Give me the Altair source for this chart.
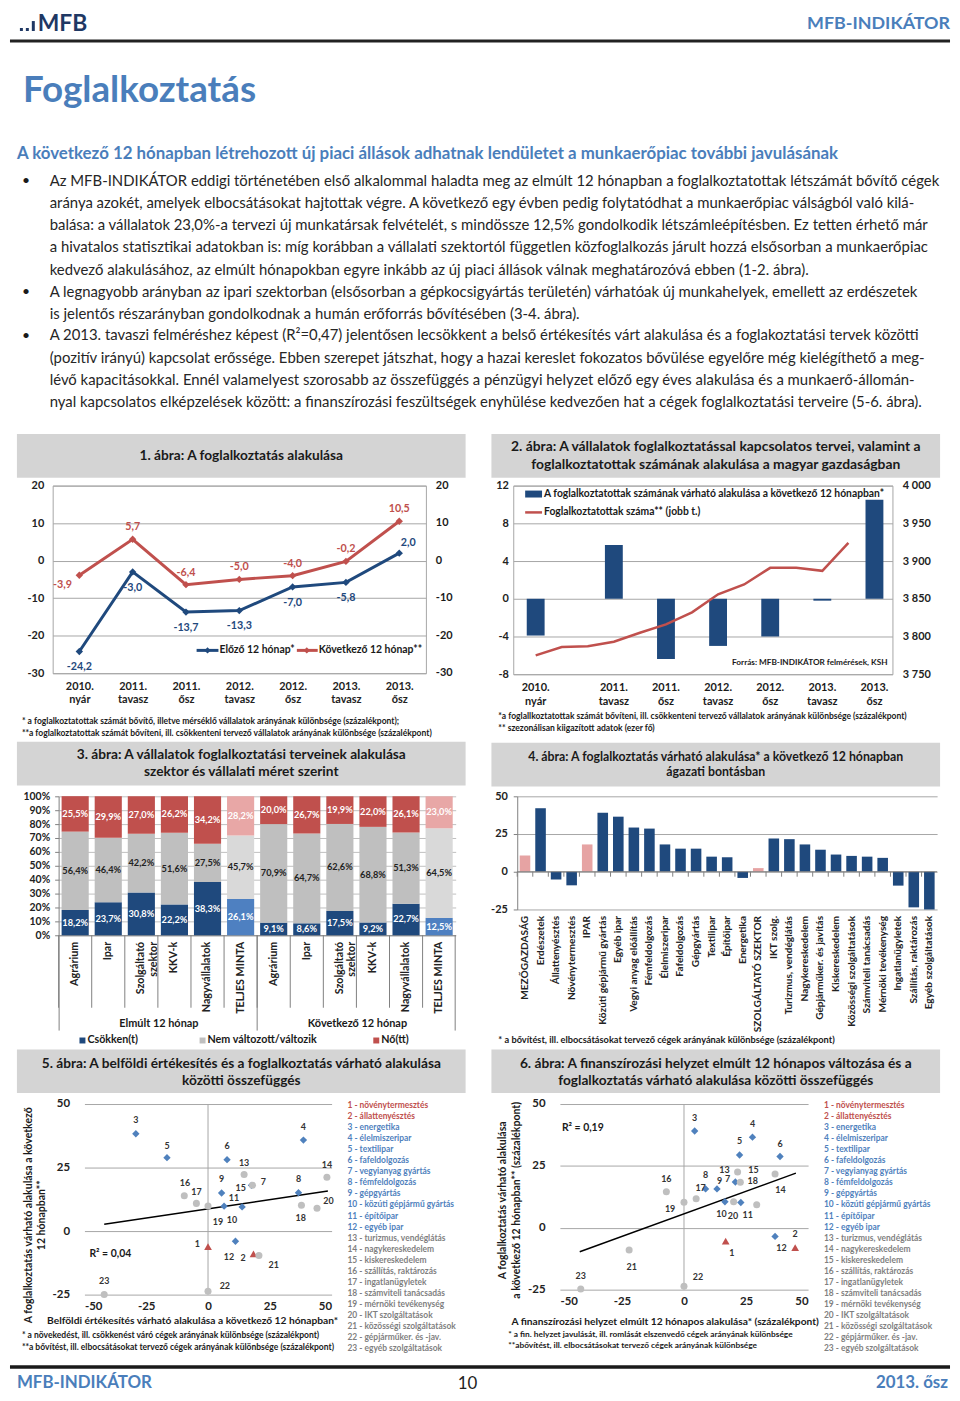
import altair as alt
import pandas as pd

FONT = "Lato"
DARK = "#1F497D"
RED = "#C0504D"
BLUE = "#4F81BD"
BOXGRAY = "#D4D4D4"
TXT = "#1A1A1A"
HBLUE = "#4A7EBB"
GRID = "#A6A6A6"
NOTE = 8.6

# ------------------------------------------------------------------ data
periods = ["2010.\nnyár", "2011.\ntavasz", "2011.\nősz", "2012.\ntavasz",
           "2012.\nősz", "2013.\ntavasz", "2013.\nősz"]
prev12 = [-24.2, -3.0, -13.7, -13.3, -7.0, -5.8, 2.0]
next12 = [-3.9, 5.7, -6.4, -5.0, -4.0, -0.2, 10.5]

survey_quarter = [0, 3, 5, 7, 9, 11, 13]
emp_quarter = [0, 1, 2, 3, 4, 5, 6, 7, 8, 9, 10, 11, 12]
employment = [3775, 3786, 3787, 3793, 3805, 3816, 3832, 3856, 3869, 3891, 3891, 3887, 3924]

groups3 = ["Elmúlt 12 hónap", "Következő 12 hónap"]
cats3 = ["Agrárium", "Ipar", "Szolgáltató\nszektor", "KKV-k", "Nagyvállalatok", "TELJES MINTA"]
series3 = ["Csökken(t)", "Nem változott/változik", "Nő(tt)"]
down3 = [18.2, 23.7, 30.8, 22.2, 38.3, 26.1, 9.1, 8.6, 17.5, 9.2, 22.7, 12.5]
same3 = [56.4, 46.4, 42.2, 51.6, 27.5, 45.7, 70.9, 64.7, 62.6, 68.8, 51.3, 64.5]
up3 = [25.5, 29.9, 27.0, 26.2, 34.2, 28.2, 20.0, 26.7, 19.9, 22.0, 26.1, 23.0]

sectors4 = ["MEZŐGAZDASÁG", "Erdészetek", "Állattenyésztés", "Növénytermesztés", "IPAR",
            "Közúti gépjármű gyártás", "Egyéb ipar", "Vegyi anyag előállítás", "Fémfeldolgozás",
            "Élelmiszeripar", "Fafeldolgozás", "Gépgyártás", "Textilipar", "Építőipar", "Energetika",
            "SZOLGÁLTATÓ SZEKTOR", "IKT szolg.", "Turizmus, vendéglátás", "Nagykereskedelem",
            "Gépjárműker. és javítás", "Kiskereskedelem", "Közösségi szolgáltatások",
            "Számviteli tanácsadás", "Mérnöki tevékenység", "Ingatlanügyletek",
            "Szállítás, raktározás", "Egyéb szolgáltatások"]
values4 = [10.7, 42.1, -5.2, -9.0, 18.1, 39.1, 36.5, 29.3, 28.6, 18.1, 15.3, 15.3, 10.0, 9.6,
           -4.1, 2.4, 22.1, 21.6, 18.1, 14.6, 11.4, 10.5, 10.0, 9.2, -9.2, -23.6, -25.0]

ids = list(range(1, 24))
sector_groups = ["agr"] * 2 + ["ind"] * 10 + ["srv"] * 11
legend_items = ["1 - növénytermesztés", "2 - állattenyésztés", "3 - energetika",
                "4 - élelmiszeripar", "5 - textilipar", "6 - fafeldolgozás",
                "7 - vegyianyag  gyártás", "8 - fémfeldolgozás", "9 - gépgyártás",
                "10 - közúti gépjármű gyártás", "11 - építőipar", "12 - egyéb ipar",
                "13 - turizmus, vendéglátás", "14 - nagykereskedelem", "15 - kiskereskedelem",
                "16 - szállítás,  raktározás", "17 - ingatlanügyletek", "18 - számviteli tanácsadás",
                "19 - mérnöki tevékenység", "20 - IKT szolgáltatások", "21 - közösségi  szolgáltatások",
                "22 - gépjárműker. és -jav.", "23 - egyéb szolgáltatások"]

sales_x = [0.0, 18.4, -29.2, 38.6, -16.6, 7.7, 17.6, 36.6, 5.5, 6.5, 13.8, 11.1, 14.6, 48.1,
           18.0, -9.6, -4.7, 37.8, 0.0, 44.1, 20.6, 0.0, -42.0]
sales_y = [-6.1, -9.0, 38.3, 35.8, 28.9, 28.1, 18.0, 15.1, 15.0, 9.8, 9.5, -4.0, 22.3, 21.2,
           18.0, 13.9, 10.9, 10.2, 9.9, 9.0, -9.6, -23.7, -25.0]
lab5_x = [-4.3, 14.2, -29.2, 38.6, -16.6, 7.7, 22.4, 36.6, 5.5, 9.7, 10.5, 8.5, 14.6, 48.1,
          13.2, -9.3, -4.7, 37.5, 4.0, 48.7, 26.6, 6.8, -42.0]
lab5_y = [-5.1, -10.7, 43.6, 41.1, 33.6, 33.3, 19.3, 20.3, 20.3, 4.3, 13.2, -10.4, 26.8, 26.0,
          17.1, 18.9, 15.5, 5.3, 3.4, 11.8, -13.2, -21.6, -19.8]
trend5_x = [-42.0, 48.5]
trend5_y = [2.7, 15.8]

fin_x = [16.8, 44.8, 4.3, 27.6, 22.4, 38.7, 20.7, 8.7, 13.3, 16.5, 22.9, 36.7, 21.6, 36.7,
         29.3, -7.1, 4.9, 22.7, 0.0, 20.0, -22.1, 0.0, -41.6]
fin_y = [-5.4, -8.0, 39.1, 36.6, 29.4, 28.8, 18.5, 15.7, 15.7, 10.5, 10.2, -3.5, 22.5, 21.7,
         9.3, 14.6, 11.7, 18.4, 10.3, 10.5, -9.0, -23.6, -24.7]
lab6_x = [19.3, 44.8, 4.3, 27.6, 22.4, 38.7, 17.6, 8.7, 14.3, 15.1, 25.7, 39.3, 16.3, 38.9,
          28.0, -7.1, 6.7, 27.7, -5.6, 19.7, -21.1, 5.6, -41.6]
lab6_y = [-10.3, -2.4, 44.2, 42.0, 34.9, 33.8, 19.7, 21.2, 18.8, 5.4, 5.0, -8.3, 23.5, 15.1,
          23.2, 19.7, 16.1, 18.8, 7.4, 4.7, -15.7, -19.8, -19.4]
trend6_x = [-42.0, 45.1]
trend6_y = [-9.7, 22.1]

body1 = ("Az MFB-INDIKÁTOR eddigi történetében első alkalommal haladta meg az elmúlt 12 hónapban a foglalkoztatottak létszámát bővítő cégek\n"
         "aránya azokét, amelyek elbocsátásokat hajtottak végre. A következő egy évben pedig folytatódhat a munkaerőpiac válságból való kilá-\n"
         "balása: a vállalatok 23,0%-a tervezi új munkatársak felvételét, s mindössze 12,5% gondolkodik létszámleépítésben. Ez tetten érhető már\n"
         "a hivatalos statisztikai adatokban is: míg korábban a vállalati szektortól független közfoglalkozás járult hozzá elsősorban a munkaerőpiac\n"
         "kedvező alakulásához, az elmúlt hónapokban egyre inkább az új piaci állások válnak meghatározóvá ebben (1-2. ábra).")
body2 = ("A legnagyobb arányban az ipari szektorban (elsősorban a gépkocsigyártás területén) várhatóak új munkahelyek, emellett az erdészetek\n"
         "is jelentős részarányban gondolkodnak a humán erőforrás bővítésében (3-4. ábra).")
body3 = ("A 2013. tavaszi felméréshez képest (R²=0,47) jelentősen lecsökkent a belső értékesítés várt alakulása és a foglakoztatási tervek közötti\n"
         "(pozitív irányú) kapcsolat erőssége. Ebben szerepet játszhat, hogy a hazai kereslet fokozatos bővülése egyelőre még kielégíthető a meg-\n"
         "lévő kapacitásokkal. Ennél valamelyest szorosabb az összefüggés a pénzügyi helyzet előző egy éves alakulása és a munkaerő-állomán-\n"
         "nyal kapcsolatos elképzelések között: a finanszírozási feszültségek enyhülése kedvezően hat a cégek foglalkoztatási terveire (5-6. ábra).")

# ------------------------------------------------------------------ helpers
dummy = pd.DataFrame({"d": [0]})
HYPH = "replace(datum.label, '\u2212', '-')"
LAB = "replace(replace(format(datum.value, '.1f'), '.', ','), '\u2212', '-')"


def T(x, y, text, size=10, bold=False, color=TXT, align="left", baseline="middle",
      angle=None, lh=None):
    kw = dict(align=align, baseline=baseline, fontSize=size, font=FONT, color=color,
              fontWeight="bold" if bold else "normal")
    if angle is not None:
        kw["angle"] = angle
    if lh is not None:
        kw["lineHeight"] = lh
        kw["lineBreak"] = "\n"
    return alt.Chart(dummy).mark_text(**kw).encode(
        x=alt.value(x), y=alt.value(y), text=alt.value(text))


def R(x, x2, y, y2, color, opacity=1):
    return alt.Chart(dummy).mark_rect(color=color, opacity=opacity).encode(
        x=alt.value(x), x2=alt.value(x2), y=alt.value(y), y2=alt.value(y2))


def HL(x, x2, y, color, w):
    return alt.Chart(dummy).mark_rule(color=color, strokeWidth=w).encode(
        x=alt.value(x), x2=alt.value(x2), y=alt.value(y))


def VL(x, y, y2, color, w):
    return alt.Chart(dummy).mark_rule(color=color, strokeWidth=w).encode(
        x=alt.value(x), y=alt.value(y), y2=alt.value(y2))


def P(x, y, shape, color, size):
    return alt.Chart(dummy).mark_point(shape=shape, filled=True, color=color, size=size,
                                       opacity=1).encode(x=alt.value(x), y=alt.value(y))


def spacer(w, top=0, bottom=1):
    # invisible block that fixes the extent of a row
    return R(0, w, -top, bottom, "white", opacity=0).properties(width=w, height=max(bottom, 1))


def title_box(x0, x1, y0, y1, cx, lines, ys, size=13.8):
    out = [R(x0, x1, y0, y1, BOXGRAY)]
    for line, yy in zip(lines, ys):
        out.append(T(cx, yy, line, size=size, bold=True, align="center"))
    return out


# ------------------------------------------------------------------ chart 1
W1, H1 = 376, 189
df1 = pd.DataFrame({
    "period": periods * 2,
    "idx": list(range(7)) * 2,
    "series": ["Előző 12 hónap*"] * 7 + ["Következő 12 hónap**"] * 7,
    "value": prev12 + next12,
})
ticks1 = [-30, -20, -10, 0, 10, 20]
x1 = alt.X("period:N", sort=periods, scale=alt.Scale(type="point", padding=0.5),
           axis=alt.Axis(title=None, labelAngle=0, labelExpr="split(datum.label, '\\n')",
                         labelFontWeight="bold", labelFontSize=11, labelPadding=7,
                         labelLineHeight=13.5, ticks=False, domain=False, grid=False))
y1 = alt.Y("value:Q", scale=alt.Scale(domain=[-30, 20], nice=False),
           axis=alt.Axis(title=None, values=ticks1, labelFontWeight="bold", labelFontSize=11,
                         labelPadding=9, ticks=False, domain=False, gridColor=GRID,
                         labelExpr=HYPH))
col1 = alt.Color("series:N", scale=alt.Scale(domain=["Előző 12 hónap*", "Következő 12 hónap**"],
                                             range=[DARK, RED]), legend=None)
b1 = alt.Chart(df1)
lines1 = b1.mark_line(strokeWidth=3, point=alt.OverlayMarkDef(shape="diamond", size=55, filled=True)
                      ).encode(x=x1, y=y1, color=col1)
lab_kw = dict(font=FONT, fontSize=10.8, fontWeight="bold")
bl_main = b1.transform_filter("datum.series == 'Előző 12 hónap*' && datum.idx != 6").transform_calculate(
    lab=LAB).mark_text(dy=16, color=DARK, **lab_kw).encode(x=x1, y=y1, text="lab:N")
bl_last = b1.transform_filter("datum.series == 'Előző 12 hónap*' && datum.idx == 6").transform_calculate(
    lab=LAB).mark_text(dy=-10, dx=9, color=DARK, **lab_kw).encode(x=x1, y=y1, text="lab:N")
rd_main = b1.transform_filter("datum.series == 'Következő 12 hónap**' && datum.idx != 0").transform_calculate(
    lab=LAB).mark_text(dy=-12, color=RED, **lab_kw).encode(x=x1, y=y1, text="lab:N")
rd_first = b1.transform_filter("datum.series == 'Következő 12 hónap**' && datum.idx == 0").transform_calculate(
    lab=LAB).mark_text(dy=10, dx=-17, color=RED, **lab_kw).encode(x=x1, y=y1, text="lab:N")
right1 = alt.Chart(pd.DataFrame({"value": ticks1})).transform_calculate(
    lab="replace(format(datum.value, 'd'), '\u2212', '-')").mark_text(
    align="left", fontSize=11, fontWeight="bold", font=FONT, color=TXT).encode(
    x=alt.value(W1 + 10), y=y1, text="lab:N")

chart1 = alt.layer(
    *title_box(-36, 416, -52, -8, 190, ["1. ábra: A foglalkoztatás  alakulása"], [-30]),
    lines1, bl_main, bl_last, rd_main, rd_first, right1,
    HL(145, 167, 166, DARK, 3), P(156, 166, "diamond", DARK, 40),
    T(168, 166, "Előző 12 hónap*", 10.5, True),
    HL(246, 267, 166, RED, 3), P(256, 166, "diamond", RED, 40),
    T(268, 166, "Következő 12 hónap**", 10.5, True),
    T(-31, 237, "* a foglalkoztatottak  számát  bővítő, illetve  mérséklő vállalatok  arányának  különbsége  (százalékpont);", NOTE, True),
    T(-31, 249, "**a foglalkoztatottak  számát  bővíteni, ill.  csökkenteni tervező vállalatok  arányának  különbsége  (százalékpont)", NOTE, True),
).properties(width=W1, height=H1, view=alt.ViewBackground(stroke=GRID))

# ------------------------------------------------------------------ chart 2
W2, H2 = 382, 190
df2b = pd.DataFrame({"q": survey_quarter, "value": next12, "period": periods})
df2l = pd.DataFrame({"q": emp_quarter, "emp": employment})
x2 = alt.X("q:Q", scale=alt.Scale(domain=[-0.67, 13.5], nice=False, zero=False), axis=None)
y2L = alt.Y("value:Q", scale=alt.Scale(domain=[-8, 12], nice=False),
            axis=alt.Axis(title=None, values=[-8, -4, 0, 4, 8, 12], labelFontWeight="bold",
                          labelFontSize=11, labelPadding=5, ticks=False, domain=False,
                          gridColor=GRID, labelExpr=HYPH))
y2R = alt.Y("emp:Q", scale=alt.Scale(domain=[3750, 4000], nice=False, zero=False),
            axis=alt.Axis(title=None, orient="right", values=[3750, 3800, 3850, 3900, 3950, 4000],
                          labelExpr="replace(format(datum.value, ','), ',', ' ')",
                          labelFontWeight="bold", labelFontSize=11, labelPadding=10,
                          ticks=False, domain=False, grid=False))
bars2 = alt.Chart(df2b).mark_bar(size=18, color=DARK).encode(x=x2, y=y2L)
line2 = alt.Chart(df2l).mark_line(color=RED, strokeWidth=2.5).encode(x=x2, y=y2R)
plabels2 = alt.Chart(df2b).mark_text(baseline="line-top", lineBreak="\n", lineHeight=14,
                                     fontSize=11, fontWeight="bold", font=FONT, color=TXT).encode(
    x=x2, text="period:N", y=alt.value(H2 + 7))
chart2 = alt.layer(
    *title_box(-22, 430, -52, -8, 204,
               ["2. ábra: A vállalatok  foglalkoztatással  kapcsolatos  tervei, valamint  a",
                "foglalkoztatottak  számának  alakulása  a magyar  gazdaságban"], [-39, -21],
               size=14),
    bars2, line2, plabels2,
    R(12, 29, 5, 12, DARK),
    T(31, 8.5, "A foglalkoztatottak számának várható alakulása a következő 12 hónapban*", 10.4, True),
    HL(12, 29, 27, RED, 2.5),
    T(31, 27, "Foglalkoztatottak száma** (jobb t.)", 10.4, True),
    T(377, 179, "Forrás: MFB-INDIKÁTOR felmérések, KSH", 8.3, True, align="right"),
    T(-15, 232, "*a foglallkoztatottak  számát  bővíteni, ill.  csökkenteni  tervező vállalatok  arányának  különbsége  (százalékpont)", NOTE, True),
    T(-15, 244, "** szezonálisan  kiigazított  adatok (ezer fő)", NOTE, True),
).resolve_scale(y="independent").properties(width=W2, height=H2,
                                            view=alt.ViewBackground(stroke=GRID))

# ------------------------------------------------------------------ chart 3
W3, H3 = 400, 140
rows = []
keys3 = []
for i in range(12):
    g = "E:" if i < 6 else "K:"
    cat = cats3[i % 6]
    key = g + cat
    keys3.append(key)
    total = cat == "TELJES MINTA"
    for o, (s, v) in enumerate(zip(series3, [down3[i], same3[i], up3[i]])):
        rows.append({"key": key, "series": s, "order": o, "value": v,
                     "shade": s + (" T" if total else "")})
df3 = pd.DataFrame(rows)
sc3x = alt.Scale(paddingInner=0, paddingOuter=0)
ax3 = alt.Axis(title=None, labelExpr="split(slice(datum.label, 2), '\\n')",
               labelAngle=270, labelAlign="right", labelBaseline="middle",
               labelFontWeight="bold", labelFontSize=10.8, labelPadding=6,
               labelLineHeight=12.5, ticks=False, domain=True, domainColor="#808080",
               labelLimit=0)
x3 = alt.X("key:N", sort=keys3, scale=sc3x, axis=ax3)
yax3 = alt.Axis(title=None, values=list(range(0, 101, 10)), labelExpr="datum.value + '%'",
                labelFontWeight="bold", labelFontSize=10.5, labelPadding=5, ticks=True,
                tickSize=4, domain=True, gridColor="#BFBFBF")
sc3 = alt.Scale(domain=[0, 100], nice=False)
shade_dom = ["Csökken(t)", "Nem változott/változik", "Nő(tt)",
             "Csökken(t) T", "Nem változott/változik T", "Nő(tt) T"]
shade_rng = [DARK, "#BFBFBF", RED, "#4E80C1", "#D9D9D9", "#E8A7A6"]
st3 = alt.Chart(df3).transform_stack(stack="value", groupby=["key"], as_=["y0", "y1"],
                                     sort=[alt.SortField("order", "ascending")])
bars3 = st3.mark_bar(width=alt.RelativeBandSize(0.82)).encode(
    x=x3, y=alt.Y("y0:Q", scale=sc3, axis=yax3), y2="y1:Q",
    color=alt.Color("shade:N", scale=alt.Scale(domain=shade_dom, range=shade_rng), legend=None))
labels3 = st3.transform_calculate(mid="(datum.y0 + datum.y1) / 2",
                                  lab=LAB + " + '%'").mark_text(
    fontSize=9.3, fontWeight="bold", font=FONT).encode(
    x=x3, y=alt.Y("mid:Q", scale=sc3, axis=yax3), text="lab:N",
    color=alt.condition("datum.series == 'Nem változott/változik'", alt.value("#222222"),
                        alt.value("white")))
seps3 = alt.Chart(pd.DataFrame({"key": keys3})).mark_rule(color="#808080").encode(
    x=alt.X("key:N", sort=keys3, bandPosition=0, scale=sc3x, axis=ax3),
    y=alt.value(H3), y2=alt.value(213))
chart3 = alt.layer(
    *title_box(-42, 410, -55, -11, 184,
               ["3. ábra: A vállalatok  foglalkoztatási  terveinek alakulása",
                "szektor és vállalati  méret szerint"], [-42, -24]),
    bars3, labels3, seps3,
    VL(0.5, H3, 236, "#808080", 1), VL(200, H3, 236, "#808080", 1), VL(W3 - 0.5, H3, 236, "#808080", 1),
    T(101, 229, groups3[0], 11, True, align="center"),
    T(301, 229, groups3[1], 11, True, align="center"),
    R(21, 27, 243, 249, DARK), T(29, 246, series3[0], 10.8, True),
    R(142, 148, 243, 249, "#BFBFBF"), T(150, 246, series3[1], 10.8, True),
    R(317, 323, 243, 249, RED), T(325, 246, series3[2], 10.8, True),
).properties(width=W3, height=H3)

# ------------------------------------------------------------------ chart 4
W4, H4 = 423, 114
df4 = pd.DataFrame({"sector": sectors4, "value": values4,
                    "kind": ["agg" if s.isupper() else "sub" for s in sectors4]})
sc4x = alt.Scale(paddingInner=0, paddingOuter=0)
ax4x = alt.Axis(title=None, labelAngle=270, labelAlign="right", labelBaseline="middle",
                labelFontWeight="bold", labelFontSize=10.2, labelPadding=6, ticks=False,
                domain=False, labelLimit=0)
x4 = alt.X("sector:N", sort=sectors4, scale=sc4x, axis=ax4x)
y4 = alt.Y("value:Q", scale=alt.Scale(domain=[-25, 50], nice=False),
           axis=alt.Axis(title=None, values=[-25, 0, 25, 50], labelFontWeight="bold",
                         labelFontSize=11, labelPadding=6, ticks=True, tickSize=4,
                         domain=True, gridColor=GRID, labelExpr=HYPH))
bars4 = alt.Chart(df4).mark_bar(width=alt.RelativeBandSize(0.68)).encode(
    x=x4, y=y4, color=alt.Color("kind:N", scale=alt.Scale(domain=["agg", "sub"],
                                                          range=["#E6A3A3", DARK]), legend=None))
zero4 = alt.Chart(pd.DataFrame({"value": [0]})).mark_rule(color="#808080").encode(y=y4)
ticks4 = alt.Chart(df4).mark_rule(color="#808080").encode(
    x=alt.X("sector:N", sort=sectors4, scale=sc4x, axis=ax4x, bandPosition=0),
    y=alt.value(H4 * 50 / 75), y2=alt.value(H4 * 50 / 75 + 5))
chart4 = alt.layer(
    *title_box(-26, 426, -54, -10, 200,
               ["4. ábra: A foglalkoztatás várható alakulása* a következő 12 hónapban",
                "ágazati bontásban"], [-40, -24], size=12.4),
    bars4, zero4, ticks4,
    T(-19, 246, "* a bővítést, ill. elbocsátásokat  tervező cégek arányának  különbsége (százalékpont)", 9.3, True),
).properties(width=W4, height=H4)


# ------------------------------------------------------------------ charts 5 & 6
def scatter(W, H, xs, ys, lxs, lys, tx, ty, title_lines, box, cx, ytitles, ytx, yty,
            xtitle, xtx, xty, notes, notex, notey, note_size, r2, r2x, r2y, legx):
    dfp = pd.DataFrame({"id": ids, "x": xs, "y": ys, "grp": sector_groups})
    dfl = pd.DataFrame({"id": ids, "x": lxs, "y": lys})
    dft = pd.DataFrame({"x": tx, "y": ty})
    xs_ = alt.X("x:Q", scale=alt.Scale(domain=[-50, 50], nice=False),
                axis=alt.Axis(title=None, values=[-50, -25, 0, 25, 50], grid=False, domain=False,
                              ticks=False, labelFontWeight="bold", labelFontSize=11.5,
                              labelPadding=6, labelExpr=HYPH))
    ys_ = alt.Y("y:Q", scale=alt.Scale(domain=[-25, 50], nice=False),
                axis=alt.Axis(title=None, values=[-25, 0, 25, 50], grid=True, gridColor=GRID,
                              domain=False, ticks=False, labelFontWeight="bold",
                              labelFontSize=11.5, labelPadding=15, labelExpr=HYPH))
    zero = alt.Chart(pd.DataFrame({"x": [0]})).mark_rule(color=GRID).encode(x=xs_)
    trend = alt.Chart(dft).mark_line(color="black", strokeWidth=1.5).encode(x=xs_, y=ys_)
    pts = alt.Chart(dfp).mark_point(filled=True, opacity=1).encode(
        x=xs_, y=ys_,
        shape=alt.Shape("grp:N", scale=alt.Scale(domain=["agr", "ind", "srv"],
                                                 range=["triangle-up", "diamond", "circle"]),
                        legend=None),
        color=alt.Color("grp:N", scale=alt.Scale(domain=["agr", "ind", "srv"],
                                                 range=[RED, BLUE, "#BFBFBF"]), legend=None),
        size=alt.Size("grp:N", scale=alt.Scale(domain=["agr", "ind", "srv"],
                                               range=[60, 50, 80]), legend=None))
    labs = alt.Chart(dfl).mark_text(fontSize=9, fontWeight="bold", font=FONT,
                                    color="#333333").encode(x=xs_, y=ys_, text="id:N")
    lh = 11.14
    layers = title_box(box[0], box[1], -55, -11, cx, title_lines, [-40, -23])
    layers += [zero, trend, pts, labs,
               T(r2x, r2y, r2, 10.5, True)]
    for t, yy in zip(ytitles, ytx):
        layers.append(T(yy, yty, t, 10.6, True, align="center", angle=270))
    layers.append(T(xtx, xty, xtitle, 10.3, True, align="center"))
    for n, yy in zip(notes, notey):
        layers.append(T(notex, yy, n, note_size, True))
    layers.append(T(legx, -4, "\n".join(legend_items[0:2]), 8.5, True, color=RED,
                    baseline="line-top", lh=lh))
    layers.append(T(legx, -4 + 2 * lh, "\n".join(legend_items[2:12]), 8.5, True, color=BLUE,
                    baseline="line-top", lh=lh))
    layers.append(T(legx, -4 + 12 * lh, "\n".join(legend_items[12:23]), 8.5, True,
                    color="#7F7F7F", baseline="line-top", lh=lh))
    return alt.layer(*layers).properties(width=W, height=H)


chart5 = scatter(
    249, 192, sales_x, sales_y, lab5_x, lab5_y, trend5_x, trend5_y,
    ["5. ábra: A belföldi értékesítés és a foglalkoztatás  várható alakulása",
     "közötti összefüggés"], (-68, 384), 158,
    ["A foglalkoztatás várható alakulása a következő", "12 hónapban**"], [-56, -43], 112,
    "Belföldi értékesítés várható alakulása a következő 12 hónapban*", 109, 219,
    ["* a növekedést, ill. csökkenést  váró cégek arányának  különbsége (százalékpont)",
     "**a bővítést, ill. elbocsátásokat  tervező cégek arányának  különbsége (százalékpont)"],
    -63, [233, 245], 8.6, "R² = 0,04", 5, 151, 265)

chart6 = scatter(
    250, 187, fin_x, fin_y, lab6_x, lab6_y, trend6_x, trend6_y,
    ["6. ábra: A finanszírozási  helyzet elmúlt 12 hónapos változása  és a",
     "foglalkoztatás  várható alakulása közötti összefüggés"], (-69, 383), 157,
    ["A foglalkoztatás várható alakulása", "a következő 12 hónapban** (százalékpont)"],
    [-57, -43], 97,
    "A finanszírozási helyzet elmúlt 12 hónapos alakulása* (százalékpont)", 106, 220,
    ["* a fin. helyzet javulását, ill. romlását elszenvedő cégek arányának  különbsége",
     "**abővítést, ill. elbocsátásokat  tervező cégek arányának  különbsége"],
    -52, [232, 243], 8.4, "R² = 0,19", 2, 24, 266)

# ------------------------------------------------------------------ header / footer
LOGO = "#1F3864"
header = alt.layer(
    R(10, 13, 15, 18, LOGO), R(16, 19, 15, 18, LOGO), R(22, 25, 8, 18, LOGO),
    T(28, 11, "MFB", 23, True, color=LOGO),
    T(947, 11, "MFB-INDIKÁTOR", 18, True, color=HBLUE, align="right"),
    HL(0, 947, 28, "#222222", 3),
    T(13, 79, "Foglalkoztatás", 37, True, color=HBLUE),
    T(7, 142, "A következő 12 hónapban létrehozott új piaci állások adhatnak lendületet a munkaerőpiac további javulásának",
      17, True, color=HBLUE),
    T(12, 169, "•", 14), T(12, 281, "•", 14), T(12, 325, "•", 14),
    T(40, 169 - 11.2, body1, 15, color="#262626", baseline="line-top", lh=22.4),
    T(40, 281 - 11.2, body2, 15, color="#262626", baseline="line-top", lh=22.4),
    T(40, 325 - 11.2, body3, 15, color="#262626", baseline="line-top", lh=22.4),
).properties(width=944, height=422)

footer = alt.layer(
    HL(0, 947, 14, "#1A1A1A", 3.5),
    T(7, 30, "MFB-INDIKÁTOR", 17, True, color=HBLUE),
    T(461, 31, "10", 17, color="#222222", align="center"),
    T(945, 30, "2013. ősz", 17, True, color=HBLUE, align="right"),
).properties(width=944, height=36)

IND = dict(color="independent", shape="independent", size="independent")
row1 = alt.hconcat(spacer(43, 54, 257), chart1, spacer(88), chart2, spacing=0,
                   bounds="flush").resolve_scale(**IND)
row2 = alt.hconcat(spacer(49, 56, 254), chart3, spacer(62), chart4, spacing=0,
                   bounds="flush").resolve_scale(**IND)
row3 = alt.hconcat(spacer(75, 56, 250), chart5, spacer(230), chart6, spacing=0,
                   bounds="flush").resolve_scale(**IND)

chart = alt.vconcat(header, row1, row2, row3, footer, spacing=0).resolve_scale(**IND).properties(
    padding=0
).configure_view(stroke=None).configure_axis(
    labelFont=FONT, titleFont=FONT, labelColor="#222222", domainColor="#808080",
    tickColor="#808080", gridColor=GRID
)

chart.save("out.html", embed_options={"renderer": "svg", "actions": False})
